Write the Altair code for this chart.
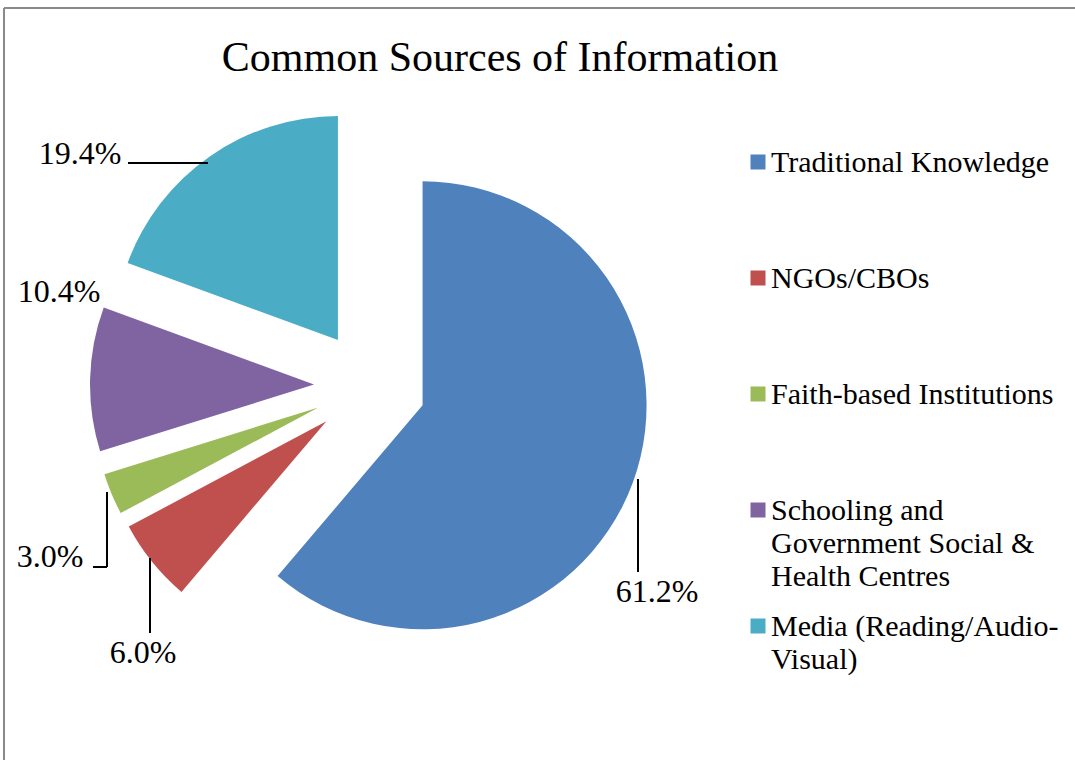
import altair as alt
import pandas as pd

# ---------------- data ----------------
title_text = "Common Sources of Information"
categories = [
    "Traditional Knowledge",
    "NGOs/CBOs",
    "Faith-based Institutions",
    "Schooling and Government Social & Health Centres",
    "Media (Reading/Audio-Visual)",
]
legend_labels = [
    "Traditional Knowledge",
    "NGOs/CBOs",
    "Faith-based Institutions",
    "Schooling and\nGovernment Social &\nHealth Centres",
    "Media (Reading/Audio-\nVisual)",
]
shares = [61.2, 6.0, 3.0, 10.4, 19.4]
colors = ["#4F81BD", "#C0504D", "#9BBB59", "#8064A2", "#4BACC6"]

# ---------------- layout (pixels) ----------------
W, H = 1075, 760
CX, CY = 370, 386        # pie centre
R = 224                  # pie radius
EXPLODE = 56             # slice explosion distance
FONT = "Liberation Serif"

df = pd.DataFrame({
    "idx": list(range(len(categories))),
    "category": categories,
    "legend": legend_labels,
    "share": shares,
})

# data-label placement chosen manually (as in the original), by slice index
label_layout = pd.DataFrame({
    "idx": [0, 1, 2, 3, 4],
    "lx": [657, 143, 50, 59, 80],
    "ly": [602, 663, 567, 302, 164],
})
leader_layout = pd.DataFrame({
    "x1": [638, 150, 107, 93, 128],
    "y1": [479, 558, 492, 567, 163],
    "x2": [638, 150, 107, 107, 208],
    "y2": [572, 633, 567, 567, 163],
})

color_scale = alt.Scale(domain=categories, range=colors)

base = alt.Chart(df)

pie = base.transform_window(
    cum="sum(share)", sort=[alt.SortField("idx")], frame=[None, 0]
).transform_joinaggregate(
    total="sum(share)"
).transform_calculate(
    a0="2*PI*(datum.cum - datum.share)/datum.total",
    a1="2*PI*datum.cum/datum.total",
).transform_calculate(
    mid="(datum.a0 + datum.a1)/2"
).transform_calculate(
    cx=f"{CX} + {EXPLODE}*sin(datum.mid)",
    cy=f"{CY} - {EXPLODE}*cos(datum.mid)",
).mark_arc(radius=R, strokeWidth=0).encode(
    x=alt.X("cx:Q", scale=None, axis=None),
    y=alt.Y("cy:Q", scale=None, axis=None),
    theta=alt.Theta("a0:Q", scale=None),
    theta2="a1:Q",
    color=alt.Color("category:N", scale=color_scale, legend=None),
)

labels_df = df.merge(label_layout, on="idx")
labels = alt.Chart(labels_df).transform_calculate(
    txt="format(datum.share, '.1f') + '%'"
).mark_text(
    font=FONT, fontSize=32, align="center", baseline="alphabetic", color="#000000"
).encode(
    x=alt.X("lx:Q", scale=None, axis=None),
    y=alt.Y("ly:Q", scale=None, axis=None),
    text="txt:N",
)

leaders = alt.Chart(leader_layout).mark_rule(color="#000000", strokeWidth=2).encode(
    x=alt.X("x1:Q", scale=None, axis=None),
    y=alt.Y("y1:Q", scale=None, axis=None),
    x2="x2:Q",
    y2="y2:Q",
)

# legend
LEG_X, LEG_Y0, LEG_STEP = 758, 162, 116
leg_sym = base.transform_calculate(
    ly=f"{LEG_Y0} + {LEG_STEP}*datum.idx"
).mark_square(size=225, opacity=1).encode(
    x=alt.value(LEG_X),
    y=alt.Y("ly:Q", scale=None, axis=None),
    color=alt.Color("category:N", scale=color_scale, legend=None),
)
leg_txt = base.transform_calculate(
    ly=f"{LEG_Y0} + {LEG_STEP}*datum.idx + 10"
).mark_text(
    font=FONT, fontSize=30, align="left", baseline="alphabetic",
    lineBreak="\n", lineHeight=33, color="#000000",
).encode(
    x=alt.value(771),
    y=alt.Y("ly:Q", scale=None, axis=None),
    text="legend:N",
)

title = alt.Chart(pd.DataFrame({"t": [title_text]})).mark_text(
    font=FONT, fontSize=42, align="center", baseline="alphabetic", color="#000000"
).encode(x=alt.value(500), y=alt.value(71), text="t:N")

border_top = alt.Chart(pd.DataFrame({"a": [0]})).mark_rule(color="#8a8a8a", strokeWidth=2).encode(
    x=alt.value(4), x2=alt.value(W), y=alt.value(8), y2=alt.value(8)
)
border_left = alt.Chart(pd.DataFrame({"a": [0]})).mark_rule(color="#8a8a8a", strokeWidth=2).encode(
    x=alt.value(4), x2=alt.value(4), y=alt.value(8), y2=alt.value(H)
)

chart = alt.layer(
    border_top, border_left, pie, leaders, labels, leg_sym, leg_txt, title
).properties(
    width=W, height=H, autosize=alt.AutoSizeParams(type="none"), padding=0,
    background="white",
).configure_view(stroke=None)

chart.save("out.html", embed_options={"renderer": "svg", "actions": False})
